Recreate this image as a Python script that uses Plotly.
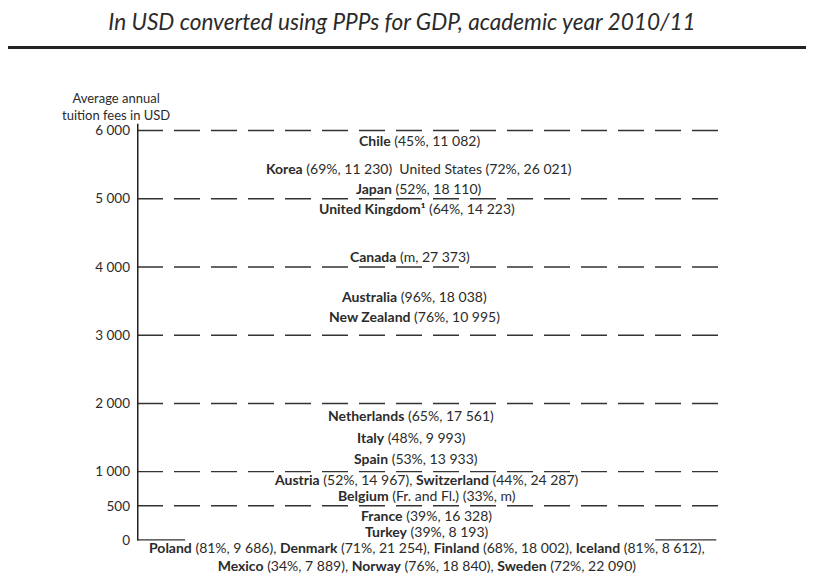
import plotly.graph_objects as go

# ---------------- data ----------------
countries = ["Chile", "Korea", "United States", "Japan", "United Kingdom¹", "Canada",
             "Australia", "New Zealand", "Netherlands", "Italy", "Spain", "Austria",
             "Switzerland", "Belgium", "France", "Turkey", "Poland", "Denmark", "Finland",
             "Iceland", "Mexico", "Norway", "Sweden"]
name_bold = [True, True, False, True, True, True, True, True, True, True, True, True,
             True, True, True, True, True, True, True, True, True, True, True]
name_note = ["", "", "", "", "", "", "", "", "", "", "", "", "", " (Fr. and Fl.)",
             "", "", "", "", "", "", "", "", ""]
entry_rate = ["45%", "69%", "72%", "52%", "64%", "m", "96%", "76%", "65%", "48%", "53%",
              "52%", "44%", "33%", "39%", "39%", "81%", "71%", "68%", "81%", "34%", "76%", "72%"]
expenditure = ["11 082", "11 230", "26 021", "18 110", "14 223", "27 373", "18 038",
               "10 995", "17 561", "9 993", "13 933", "14 967", "24 287", "m", "16 328",
               "8 193", "9 686", "21 254", "18 002", "8 612", "7 889", "18 840", "22 090"]

# label lines: which countries share a label, and the fee level (USD) of each label
line_members = [[0], [1, 2], [3], [4], [5], [6], [7], [8], [9], [10], [11, 12], [13],
                [14], [15], [16, 17, 18, 19, 20, 21, 22]]
line_seps = [[], ["  "], [], [], [], [], [], [], [], [], [", "], [], [], [],
             [", ", ", ", ", ", ",<br>", ", ", ", "]]
line_fee = [5850, 5440, 5150, 4860, 4150, 3570, 3270, 1820, 1500, 1190, 880, 645,
            360, 125, -250]

tick_vals = [0, 500, 1000, 2000, 3000, 4000, 5000, 6000]
tick_text = ["0", "500", "1 000", "2 000", "3 000", "4 000", "5 000", "6 000"]

# ---------------- layout helpers (positions only) ----------------
line_xpos = [0.487, 0.485, 0.485, 0.482, 0.470, 0.477, 0.477, 0.472, 0.472, 0.480,
             0.499, 0.499, 0.498, 0.499, 0.499]

FONT = "Lato, 'Open Sans', sans-serif"
TXT = "#2b2b2b"
LINE = "#333333"


def label(i):
    nm = countries[i]
    nm = f"<b>{nm}</b>" if name_bold[i] else nm
    return f"{nm}{name_note[i]} ({entry_rate[i]}, {expenditure[i]})"


fig = go.Figure()
# invisible trace to set up the axes
fig.add_trace(go.Scatter(x=[0, 1], y=[0, 6000], mode="markers",
                         marker=dict(opacity=0), hoverinfo="skip", showlegend=False))

shapes = []
for v in tick_vals:
    if v == 0:
        continue
    shapes.append(dict(type="line", xref="x", yref="y", x0=0, x1=1, y0=v, y1=v,
                       line=dict(color=LINE, width=1.4, dash="26px,11px")))
# baseline segments at 0
shapes.append(dict(type="line", xref="x", yref="y", x0=0, x1=0.083, y0=0, y1=0,
                   line=dict(color=LINE, width=1.4)))
shapes.append(dict(type="line", xref="x", yref="y", x0=0.892, x1=0.997, y0=0, y1=0,
                   line=dict(color=LINE, width=1.4)))
# vertical axis line
shapes.append(dict(type="line", xref="x", yref="y", x0=0, x1=0, y0=-10, y1=6100,
                   line=dict(color="#222222", width=3)))
# top rule
shapes.append(dict(type="line", xref="paper", yref="paper", x0=-0.222, x1=1.17,
                   y0=1.135, y1=1.135, line=dict(color="#222222", width=3)))

annotations = []
for k, members in enumerate(line_members):
    parts = [label(members[0])]
    for j, i in enumerate(members[1:]):
        parts.append(line_seps[k][j] + label(i))
    txt = "".join(parts)
    annotations.append(dict(x=line_xpos[k], y=line_fee[k], xref="x", yref="y",
                            text=txt, showarrow=False, xanchor="center",
                            yanchor="middle", align="center",
                            font=dict(family=FONT, size=14, color=TXT)))

# axis title
annotations.append(dict(x=-0.036, y=0.968, xref="paper", yref="paper",
                        text="Average annual<br>tuition fees in USD", showarrow=False,
                        xanchor="center", yanchor="bottom", align="center",
                        font=dict(family=FONT, size=13, color=TXT)))

fig.update_layout(
    width=814, height=581,
    margin=dict(l=129, r=104, t=102, b=16),
    paper_bgcolor="white", plot_bgcolor="white",
    title=dict(text="<i>In USD converted using PPPs for GDP, academic year 2010/11</i>",
               x=0.484, xanchor="center", y=0.976, yanchor="middle",
               font=dict(family=FONT, size=22.6, color=TXT)),
    xaxis=dict(range=[0, 1], visible=False, fixedrange=True),
    yaxis=dict(range=[-485, 6300], showgrid=False, zeroline=False, showline=False,
               tickvals=tick_vals, ticktext=tick_text, ticks="",
               ticklabelstandoff=6,
               tickfont=dict(family=FONT, size=13.5, color=TXT), fixedrange=True),
    shapes=shapes,
    annotations=annotations,
    showlegend=False,
)

fig.write_html("out.html")
